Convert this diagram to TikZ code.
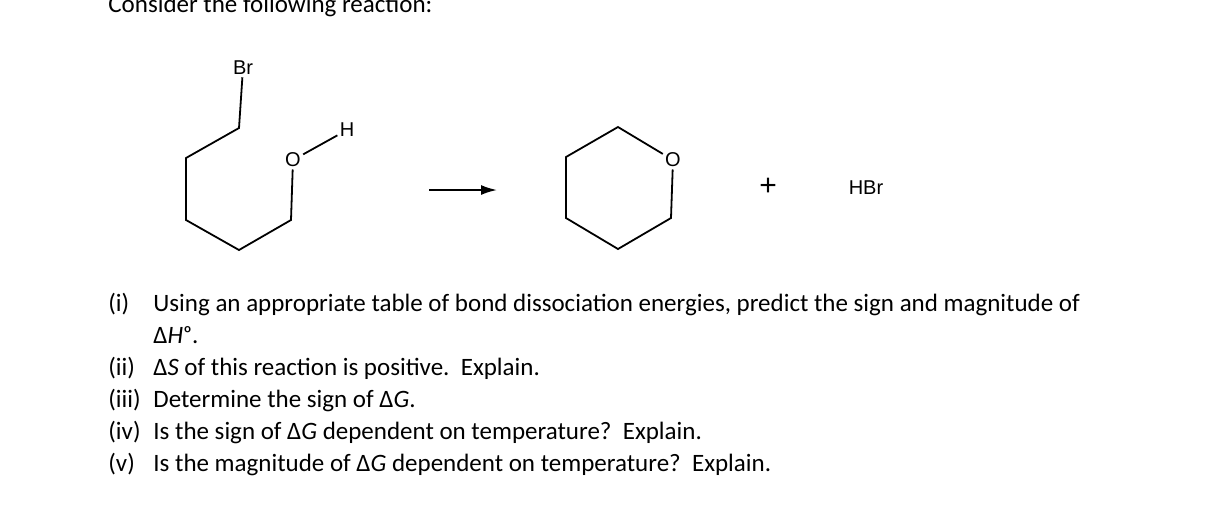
\documentclass[tikz,border=0pt]{standalone}
\usepackage{fontspec}
\usetikzlibrary{arrows.meta}
\setmainfont{Carlito}
\newfontfamily\arial{Liberation Sans}
\begin{document}
\begin{tikzpicture}[x=0.5pt,y=-0.5pt,
  atom/.style={font=\arial\fontsize{10}{12}\selectfont,inner sep=1pt},
  bond/.style={line width=0.9pt},
  txt/.style={font=\fontsize{12.5}{14}\selectfont,anchor=base west,inner sep=0pt}]
\useasboundingbox (0,0) rectangle (1214,516);
\node[txt] (t0) at (108,12) {Consider the following reaction:};
\node[atom] (br) at (243,68) {Br};
\coordinate (a1) at (239,128);
\coordinate (a2) at (186,158);
\coordinate (a3) at (186,220);
\coordinate (a4) at (239,250);
\coordinate (a5) at (291,220);
\node[atom] (o1) at (293,160) {O};
\node[atom] (h1) at (347,130) {H};
\draw[bond] (br) -- (a1) -- (a2) -- (a3) -- (a4) -- (a5) -- (o1);
\draw[bond] (o1) -- (h1);
\coordinate (r0) at (429,190);
\coordinate (r1) at (497,190);
\draw[bond,-{Latex[length=8pt,width=5pt]}] (r0) -- (r1);
\coordinate (b1) at (618,127);
\coordinate (b2) at (566,157);
\coordinate (b3) at (566,218);
\coordinate (b4) at (618,249);
\coordinate (b5) at (671,218);
\node[atom] (o2) at (673,160) {O};
\draw[bond] (o2) -- (b1) -- (b2) -- (b3) -- (b4) -- (b5) -- (o2);
\node[atom,font=\arial\fontsize{15}{17}\selectfont] (plus) at (768,187) {+};
\node[atom] (hbr) at (866,188) {HBr};
\node[txt] (l1) at (108,311) {(i)};
\node[txt] (q1) at (153,311) {Using an appropriate table of bond dissociation energies, predict the sign and magnitude of};
\node[txt] (q1b) at (153,343) {Δ\textit{H}ᵒ.};
\node[txt] (l2) at (108,375) {(ii)};
\node[txt] (q2) at (153,375) {Δ\textit{S} of this reaction is positive.\ \ Explain.};
\node[txt] (l3) at (108,407) {(iii)};
\node[txt] (q3) at (153,407) {Determine the sign of Δ\textit{G}.};
\node[txt] (l4) at (108,439) {(iv)};
\node[txt] (q4) at (153,439) {Is the sign of Δ\textit{G} dependent on temperature?\ \ Explain.};
\node[txt] (l5) at (108,471) {(v)};
\node[txt] (q5) at (153,471) {Is the magnitude of Δ\textit{G} dependent on temperature?\ \ Explain.};
\end{tikzpicture}
\end{document}
